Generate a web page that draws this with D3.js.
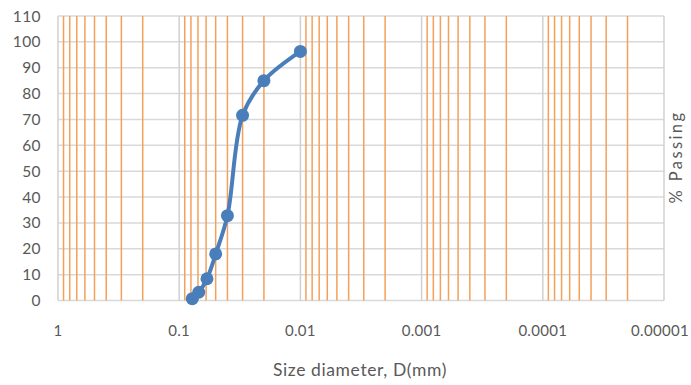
<!DOCTYPE html>
<html>
<head>
<meta charset="utf-8">
<script src="https://cdn.jsdelivr.net/npm/d3@7"></script>
<style>
  body { margin: 0; background: #fff; }
  text { font-family: Lato, "Open Sans", sans-serif; fill: #595959; }
</style>
</head>
<body>
<div id="chart"></div>
<script>
// grain size data
var sizes = [0.078, 0.069, 0.059, 0.05, 0.04, 0.03, 0.02, 0.01];
var passing = [0.7, 3.2, 8.4, 18, 32.8, 71.6, 85, 96.3];
var yTicks = [0, 10, 20, 30, 40, 50, 60, 70, 80, 90, 100, 110];
var decades = [1, 0.1, 0.01, 0.001, 0.0001, 0.00001];
var decadeLabels = ["1", "0.1", "0.01", "0.001", "0.0001", "0.00001"];

var W = 691, H = 385;
var margin = {top: 16, right: 27, bottom: 84.5, left: 58};
var width = W - margin.left - margin.right;
var height = H - margin.top - margin.bottom;

var x = d3.scaleLog().domain([1, 0.00001]).range([0, width]);
var y = d3.scaleLinear().domain([0, 110]).range([height, 0]);

var svg = d3.select("#chart").append("svg")
    .attr("width", W)
    .attr("height", H)
  .append("g")
    .attr("transform", "translate(" + margin.left + "," + margin.top + ")");

// minor vertical lines (2..9 in every decade)
var minors = [];
decades.slice(1).forEach(function(d) {
  for (var k = 2; k <= 9; k++) minors.push(d * k);
});

// horizontal grid
svg.selectAll(".hgrid")
  .data(yTicks)
  .enter().append("line")
  .attr("x1", 0).attr("x2", width)
  .attr("y1", function(d) { return y(d); })
  .attr("y2", function(d) { return y(d); })
  .attr("stroke", "#d9d9d9")
  .attr("stroke-width", 1.5);

// decade grid
svg.selectAll(".vgrid")
  .data(decades)
  .enter().append("line")
  .attr("x1", function(d) { return x(d); })
  .attr("x2", function(d) { return x(d); })
  .attr("y1", 0).attr("y2", height)
  .attr("stroke", "#d0d0d0")
  .attr("stroke-width", 1.5);

svg.selectAll(".minor")
  .data(minors)
  .enter().append("line")
  .attr("x1", function(d) { return x(d); })
  .attr("x2", function(d) { return x(d); })
  .attr("y1", 0).attr("y2", height)
  .attr("stroke", "#f5a05a")
  .attr("stroke-width", 1.5);

// y labels
svg.selectAll(".ylab")
  .data(yTicks)
  .enter().append("text")
  .attr("x", -17)
  .attr("y", function(d) { return y(d); })
  .attr("dy", "0.36em")
  .attr("text-anchor", "end")
  .style("font-size", "15.5px")
  .style("letter-spacing", "0.4px")
  .text(function(d) { return d; });

// x labels
svg.selectAll(".xlab")
  .data(decades)
  .enter().append("text")
  .attr("x", function(d) { return x(d); })
  .attr("dx", function(d, i) { return i == decades.length - 1 ? -4 : 0; })
  .attr("y", height + 35)
  .attr("text-anchor", "middle")
  .style("font-size", "15px")
  .style("letter-spacing", "0.3px")
  .text(function(d, i) { return decadeLabels[i]; });

svg.append("text")
  .attr("x", 302)
  .attr("y", height + 75)
  .attr("text-anchor", "middle")
  .style("font-size", "17.5px")
  .style("letter-spacing", "0.6px")
  .text("Size diameter, D(mm)");

svg.append("text")
  .attr("transform", "translate(" + (width + 18) + "," + 141 + ") rotate(-90)")
  .attr("text-anchor", "middle")
  .style("font-size", "16.5px")
  .style("letter-spacing", "2.4px")
  .text("% Passing");

// curve
var pts = sizes.map(function(s, i) { return [s, passing[i]]; });
var line = d3.line()
  .x(function(d) { return x(d[0]); })
  .y(function(d) { return y(d[1]); })
  .curve(d3.curveCatmullRom.alpha(0.5));

svg.append("path")
  .datum(pts)
  .attr("d", line)
  .attr("fill", "none")
  .attr("stroke", "#4a7ebb")
  .attr("stroke-width", 4);

svg.selectAll(".pt")
  .data(pts)
  .enter().append("circle")
  .attr("cx", function(d) { return x(d[0]); })
  .attr("cy", function(d) { return y(d[1]); })
  .attr("r", 6.5)
  .attr("fill", "#4a7ebb");
</script>
</body>
</html>
